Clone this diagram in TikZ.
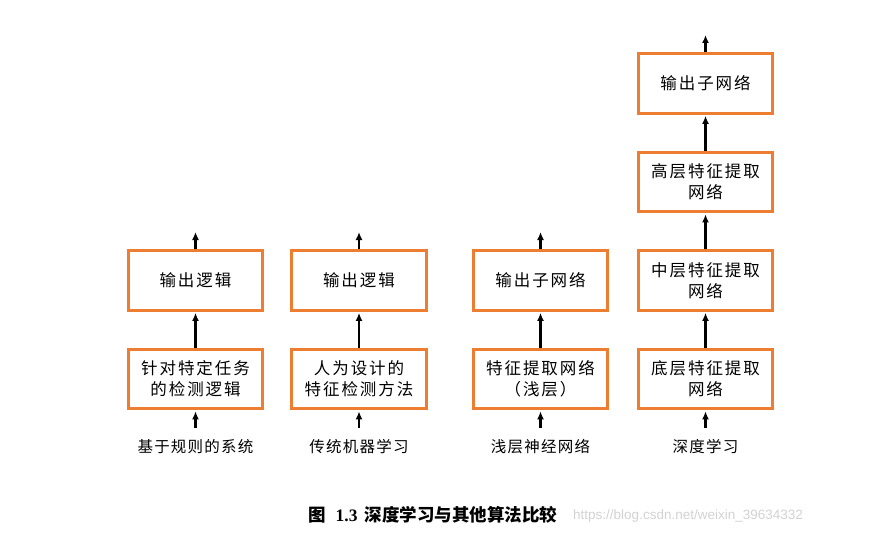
\documentclass[tikz,border=0pt]{standalone}
\usepackage{fontspec}
\setmainfont{Liberation Serif}
\newfontfamily\cjk[LetterSpace=12]{Noto Sans CJK SC}
\newfontfamily\cjklab[LetterSpace=8]{Noto Sans CJK SC}
\newfontfamily\cjkcap{Noto Sans CJK SC}
\newfontfamily\wmfont{Liberation Sans}
\usetikzlibrary{arrows.meta}
\definecolor{boxorange}{HTML}{ED7D31}
\tikzset{
 box/.style={draw=boxorange, line width=2.6pt, minimum width=134.5pt, minimum height=59.5pt,
   inner sep=0pt, align=center, font=\cjk\fontsize{16.5}{21}\selectfont},
 flow/.style={-{Latex[length=8pt,width=7pt]}, line width=2.3pt},
 lab/.style={font=\cjklab\fontsize{15.5}{18}\selectfont}
}
\begin{document}
\begin{tikzpicture}[x=1pt,y=-1pt]
\useasboundingbox (0,0) rectangle (888,535);
% column 1
\node[box] (a1) at (195.5,280.5) {输出逻辑};
\node[box] (b1) at (195.5,379) {针对特定任务\\的检测逻辑};
\coordinate (t1) at (195.5,232);
\coordinate (s1) at (195.5,428);
\node[lab] (l1) at (195.5,447) {基于规则的系统};
% column 2
\node[box] (a2) at (359,280.5) {输出逻辑};
\node[box] (b2) at (359,379) {人为设计的\\特征检测方法};
\coordinate (t2) at (359,232);
\coordinate (s2) at (359,428);
\node[lab] (l2) at (359,447) {传统机器学习};
% column 3
\node[box] (a3) at (540.5,280.5) {输出子网络};
\node[box] (b3) at (540.5,379) {特征提取网络\\（浅层）};
\coordinate (t3) at (540.5,232);
\coordinate (s3) at (540.5,428);
\node[lab] (l3) at (540.5,447) {浅层神经网络};
% column 4
\node[box] (d4) at (705.5,83.5) {输出子网络};
\node[box] (c4) at (705.5,182) {高层特征提取\\网络};
\node[box] (a4) at (705.5,280.5) {中层特征提取\\网络};
\node[box] (b4) at (705.5,379) {底层特征提取\\网络};
\coordinate (t4) at (705.5,35);
\coordinate (s4) at (705.5,428);
\node[lab] (l4) at (705.5,447) {深度学习};
% arrows
\foreach \i in {1,2,3}{
  \draw[flow] (a\i.north) -- (t\i);
  \draw[flow,shorten >=1.3pt] (b\i.north) -- (a\i.south);
  \draw[flow,shorten >=1.3pt] (s\i) -- (b\i.south);
}
\draw[flow] (d4.north) -- (t4);
\draw[flow,shorten >=1.3pt] (c4.north) -- (d4.south);
\draw[flow,shorten >=1.3pt] (a4.north) -- (c4.south);
\draw[flow,shorten >=1.3pt] (b4.north) -- (a4.south);
\draw[flow,shorten >=1.3pt] (s4) -- (b4.south);
% caption
\node[anchor=west, inner sep=0pt, font=\fontsize{17.5}{20}\selectfont] (cap) at (308,515)
  {\cjkcap\bfseries 图\hspace{10pt}\rmfamily 1.3\hspace{7pt}\cjkcap\bfseries 深度学习与其他算法比较};
\node[anchor=west, inner sep=0pt, text=gray!35, font=\wmfont\fontsize{13.5}{16}\selectfont] (wm) at (573,516)
  {https://blog.csdn.net/weixin\_39634332};
\end{tikzpicture}
\end{document}
